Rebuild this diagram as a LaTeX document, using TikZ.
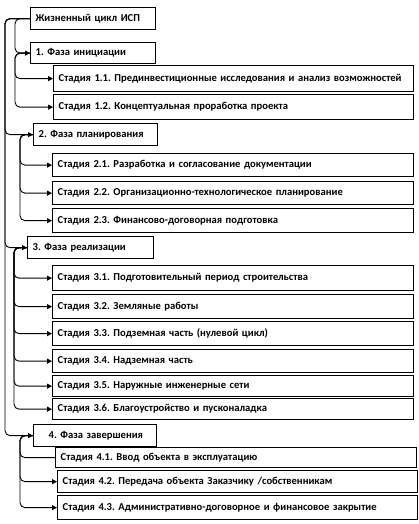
\documentclass[tikz,border=0pt]{standalone}
\usepackage{fontspec}
\setmainfont{Carlito}
\usetikzlibrary{arrows.meta}
\frenchspacing
\begin{document}
\begin{tikzpicture}[x=1pt,y=-1pt,
  box/.style={draw=black,line width=1.3pt,fill=white,anchor=north west,inner xsep=5pt,inner ysep=0pt,
    font=\bfseries\fontsize{10.6}{12}\selectfont,align=left},
  conn/.style={line width=0.9pt,rounded corners=5pt},
  arr/.style={conn,-{Triangle[length=5pt,width=5pt]}}]
\useasboundingbox (0,0) rectangle (419,524);
\newcommand{\bx}[6]{\node[box,minimum width={#4-#2},minimum height={#5-#3},text width={#4-#2-10}] (#1) at (#2,#3) {#6};}
\bx{T}{30}{7}{155}{29}{Жизненный цикл ИСП}
\bx{P1}{30}{42}{155}{63}{1. Фаза инициации}
\bx{S11}{53}{65}{413}{91}{Стадия 1.1. Прединвестиционные исследования и анализ возможностей}
\bx{S12}{53}{94}{413}{119}{Стадия 1.2. Концептуальная проработка проекта}
\bx{P2}{33}{123}{157}{145}{2. Фаза планирования}
\bx{S21}{52}{153}{413}{176}{Стадия 2.1. Разработка и согласование документации}
\bx{S22}{52}{181}{413}{204}{Стадия 2.2. Организационно-технологическое планирование}
\bx{S23}{52}{208}{413}{232}{Стадия 2.3. Финансово-договорная подготовка}
\bx{P3}{27}{236}{153}{258}{3. Фаза реализации}
\bx{S31}{52}{265}{413}{290}{Стадия 3.1. Подготовительный период строительства}
\bx{S32}{52}{294}{413}{318}{Стадия 3.2. Земляные работы}
\bx{S33}{52}{321}{413}{345}{Стадия 3.3. Подземная часть (нулевой цикл)}
\bx{S34}{52}{349}{413}{372}{Стадия 3.4. Надземная часть}
\bx{S35}{52}{375}{413}{396}{Стадия 3.5. Наружные инженерные сети}
\bx{S36}{52}{398}{413}{419}{Стадия 3.6. Благоустройство и пусконаладка}
\bx{P4}{33}{424}{156}{446}{\hspace*{10pt}4. Фаза завершения}
\bx{S41}{55}{447}{416}{467}{Стадия 4.1. Ввод объекта в эксплуатацию}
\bx{S42}{57}{470}{417}{492}{Стадия 4.2. Передача объекта Заказчику /собственникам}
\bx{S43}{57}{495}{417}{519}{Стадия 4.3. Административно-договорное и финансовое закрытие}
% outer connectors
\foreach \p in {P2,P3,P4} \draw[arr] (T.west) -- ++(-25,0) |- (\p.west);
\draw[arr] (T.west) -- ++(-15,0) |- (P1.west);
\foreach \s in {S11,S12} \draw[arr] (P1.west) -- ++(-15,0) |- (\s.west);
\foreach \s in {S21,S22,S23} \draw[arr] (P2.west) -- ++(-13,0) |- (\s.west);
\foreach \s in {S31,S32,S33,S34,S35,S36} \draw[arr] (P3.west) -- ++(-13,0) |- (\s.west);
\draw[conn] (P4.west) -- ++(-13,0) |- (S41.west);
\foreach \s in {S42,S43} \draw[arr] (P4.west) -- ++(-13,0) |- (\s.west);
\end{tikzpicture}
\end{document}
